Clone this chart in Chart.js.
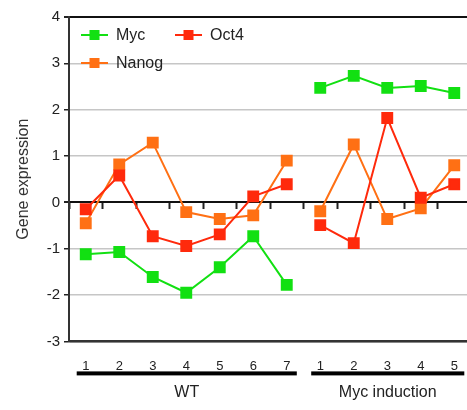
<!DOCTYPE html>
<html>
<head>
<meta charset="utf-8">
<script src="https://cdn.jsdelivr.net/npm/chart.js@4/dist/chart.umd.min.js"></script>
<style>
  body { margin: 0; background: #fff; overflow: hidden; }
  #wrap { width: 480px; height: 410px; }
</style>
</head>
<body>
<div id="wrap"><canvas id="geneChart"></canvas></div>
<script>
// categories: 7 WT samples then 5 Myc induction samples
let wtLabels = ["1", "2", "3", "4", "5", "6", "7"]
let mycIndLabels = ["1", "2", "3", "4", "5"]
let labels = wtLabels.concat(mycIndLabels)

let groups = [
	{ name: "WT", from: 0, to: wtLabels.length - 1 },
	{ name: "Myc induction", from: wtLabels.length, to: labels.length - 1 }
]

let mycValues = [-1.12, -1.07, -1.61, -1.95, -1.40, -0.73, -1.78, 2.47, 2.73, 2.47, 2.51, 2.36]
let oct4Values = [-0.15, 0.58, -0.73, -0.94, -0.69, 0.13, 0.39, -0.49, -0.88, 1.82, 0.10, 0.39]
let nanogValues = [-0.45, 0.82, 1.29, -0.21, -0.36, -0.28, 0.90, -0.19, 1.25, -0.36, -0.13, 0.80]

let yTicks = [-3, -2, -1, 0, 1, 2, 3, 4]

let breakAt = wtLabels.length - 1
let fontName = "'Liberation Sans', Arial, sans-serif"

function series(label, color, data) {
	return {
		label: label,
		data: data,
		borderColor: color,
		backgroundColor: color,
		borderWidth: 2,
		pointStyle: 'rect',
		pointRadius: 7,
		pointHoverRadius: 7,
		tension: 0,
		segment: {
			borderColor: ctx => ctx.p0DataIndex === breakAt ? 'rgba(0,0,0,0)' : undefined
		}
	}
}

// legend inside plot, line + square marker like the original
const insideLegend = {
	id: 'insideLegend',
	afterDatasetsDraw(chart) {
		let ctx = chart.ctx
		let a = chart.chartArea
		let spots = [
			[a.left + 12, a.top + 18],
			[a.left + 106, a.top + 18],
			[a.left + 12, a.top + 46]
		]
		ctx.save()
		ctx.font = "16px " + fontName
		ctx.textBaseline = 'middle'
		chart.data.datasets.forEach((ds, i) => {
			let [x, y] = spots[i]
			ctx.strokeStyle = ds.borderColor
			ctx.lineWidth = 2
			ctx.beginPath()
			ctx.moveTo(x, y)
			ctx.lineTo(x + 27, y)
			ctx.stroke()
			ctx.fillStyle = ds.backgroundColor
			ctx.fillRect(x + 8.5, y - 5, 10, 10)
			ctx.fillStyle = '#222'
			ctx.fillText(ds.label, x + 35, y + 1)
		})
		ctx.restore()
	}
}

// group underline bars and names below the x labels
const groupBars = {
	id: 'groupBars',
	afterDraw(chart) {
		let ctx = chart.ctx
		let xs = chart.scales.x
		let base = chart.chartArea.bottom
		ctx.save()
		ctx.font = "16px " + fontName
		ctx.textAlign = 'center'
		ctx.textBaseline = 'middle'
		groups.forEach(g => {
			let x1 = xs.getPixelForValue(g.from - 0.27)
			let x2 = xs.getPixelForValue(g.to + 0.3)
			ctx.fillStyle = '#000'
			ctx.fillRect(x1, base + 30, x2 - x1, 4)
			ctx.fillStyle = '#222'
			ctx.fillText(g.name, (x1 + x2) / 2, base + 51)
		})
		ctx.restore()
	}
}

let ctx1 = document.getElementById("geneChart").getContext('2d')
var geneChart = new Chart(ctx1, {
	type: 'line',
	data: {
		labels: labels,
		datasets: [
			series('Myc', '#12e012', mycValues),
			series('Oct4', '#ff2a0c', oct4Values),
			series('Nanog', '#ff7014', nanogValues)
		]
	},
	options: {
		responsive: true,
		maintainAspectRatio: false,
		animation: false,
		layout: {
			padding: { top: 17, left: 6, right: 0, bottom: 27 }
		},
		plugins: {
			legend: { display: false },
			tooltip: { enabled: false }
		},
		scales: {
			x: {
				offset: true,
				grid: { display: false },
				border: { display: true, color: '#333', width: 2 },
				ticks: {
					color: '#222',
					padding: 9,
					font: { family: fontName, size: 13 }
				}
			},
			x2: {
				type: 'category',
				labels: labels,
				position: { y: 0 },
				offset: true,
				grid: {
					offset: true,
					drawOnChartArea: false,
					drawTicks: true,
					tickLength: 6,
					tickWidth: 2,
					tickColor: '#222'
				},
				border: { display: true, color: '#111', width: 2 },
				ticks: { display: false }
			},
			y: {
				min: -3,
				max: 4,
				afterBuildTicks: axis => { axis.ticks = yTicks.map(v => ({ value: v })) },
				afterFit: axis => { axis.width = 63 },
				border: { display: true, color: '#333', width: 2 },
				grid: {
					color: c => (c.tick.value === 0 || c.tick.value === 4 || c.tick.value === -3) ? '#111' : '#c6c6c6',
					lineWidth: c => (c.tick.value === 0 || c.tick.value === 4) ? 2 : 1.5,
					tickColor: '#222',
					tickLength: 5
				},
				ticks: {
					color: '#222',
					padding: 4,
					font: { family: fontName, size: 15 }
				},
				title: {
					display: true,
					text: 'Gene expression',
					color: '#333',
					padding: { top: 8, bottom: 4 },
					font: { family: fontName, size: 16 }
				}
			}
		}
	},
	plugins: [insideLegend, groupBars]
})
</script>
</body>
</html>
